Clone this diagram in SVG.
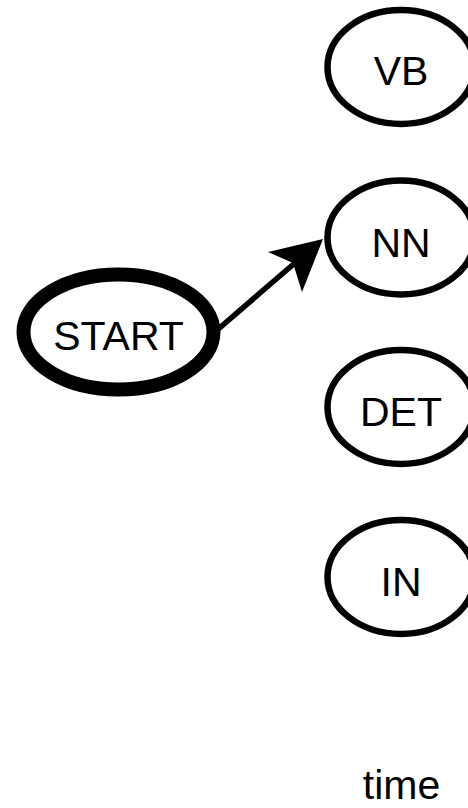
<svg xmlns="http://www.w3.org/2000/svg" width="468" height="808" viewBox="0 0 468 808">
<style>
.node ellipse{fill:#ffffff;stroke:#000000;stroke-width:6.5}
.node.start ellipse{stroke-width:14}
text{font-family:"Liberation Sans",Arial,sans-serif;font-size:41px;fill:#000000;text-anchor:middle}
.edge{stroke:#000000;stroke-width:5.5;fill:none}
.head{fill:#000000;stroke:none}
</style>
<rect width="468" height="808" fill="#ffffff"/>
<g id="connectors">
<path class="edge" d="M216,331 L296,262"/>
<polygon class="head" points="323,239 268,252 293,263 302,292"/>
</g>
<g id="node-start" class="node start">
<ellipse cx="118.5" cy="332" rx="95" ry="57.5"/>
<text x="118.5" y="350">START</text>
</g>
<g id="node-vb" class="node">
<ellipse cx="401" cy="67" rx="73.5" ry="57"/>
<text x="401" y="85">VB</text>
</g>
<g id="node-nn" class="node">
<ellipse cx="401" cy="237.5" rx="73.5" ry="57"/>
<text x="401" y="256.5">NN</text>
</g>
<g id="node-det" class="node">
<ellipse cx="401" cy="407" rx="73.5" ry="57"/>
<text x="401" y="426">DET</text>
</g>
<g id="node-in" class="node">
<ellipse cx="401" cy="577" rx="73.5" ry="57"/>
<text x="401" y="596">IN</text>
</g>
<text id="label-time" x="401.5" y="799">time</text>
</svg>
